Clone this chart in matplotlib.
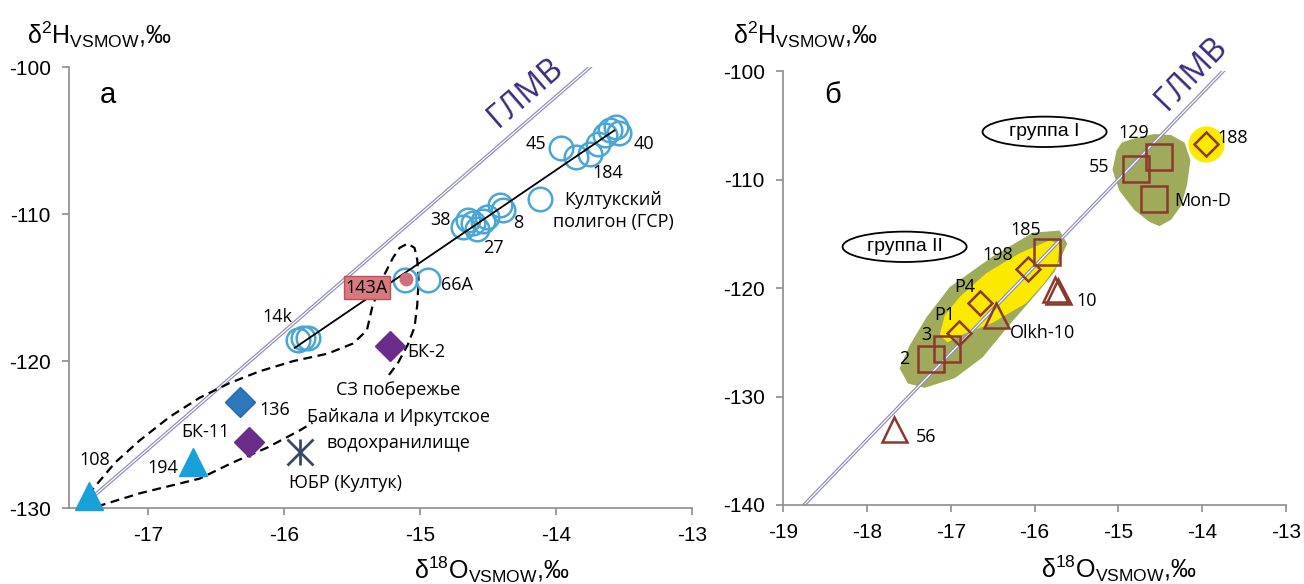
import matplotlib
matplotlib.use('Agg')
import matplotlib.pyplot as plt
from matplotlib.patches import Ellipse

plt.rcParams['font.family'] = ['Liberation Sans', 'DejaVu Sans']
plt.rcParams['mathtext.fontset'] = 'custom'
plt.rcParams['mathtext.rm'] = 'Liberation Sans'
plt.rcParams['mathtext.it'] = 'Liberation Sans'
plt.rcParams['mathtext.bf'] = 'Liberation Sans:bold'
plt.rcParams['axes.unicode_minus'] = False

LBL = ['Open Sans', 'DejaVu Sans']   # шрифт подписей точек

# ---------------- панель а ----------------
# Култукский полигон (ГСР) - открытые кружки
kult_o18 = [-13.96, -13.85, -13.75, -13.69, -13.64, -13.60, -13.56, -13.54,
            -14.68, -14.65, -14.61, -14.58, -14.54, -14.51, -14.41, -14.39, -14.12,
            -15.90, -15.86, -15.82, -15.11, -14.94]
kult_h2 = [-105.5, -106.1, -105.9, -105.2, -104.6, -104.3, -104.1, -104.5,
           -110.9, -110.4, -110.6, -111.0, -110.5, -110.2, -109.4, -109.7, -109.0,
           -118.6, -118.4, -118.4, -114.5, -114.5]
# линия регрессии
regr_o18 = [-15.92, -13.57]
regr_h2 = [-119.1, -104.3]
# 143А
p143_o18, p143_h2 = -15.10, -114.4
# треугольники 108, 194
tri_o18 = [-17.43, -16.67]
tri_h2 = [-129.2, -126.9]
# ромб 136
d136_o18, d136_h2 = -16.32, -122.8
# ромбы БК-11, БК-2
bk_o18 = [-16.26, -15.22]
bk_h2 = [-125.5, -119.0]
# ЮБР (Култук)
ubr_o18, ubr_h2 = -15.88, -126.2
# пунктирный контур
envA_o18 = [-17.44, -17.24, -17.06, -16.84, -16.62, -16.40, -16.18, -15.93, -15.68,
            -15.49, -15.39, -15.35, -15.31, -15.26, -15.20, -15.15, -15.09, -15.04,
            -15.02, -15.01, -15.02, -15.04, -15.09, -15.16, -15.24]
envA_h2 = [-129.1, -126.9, -125.4, -123.8, -122.5, -121.5, -120.7, -120.0, -119.5,
           -118.8, -117.9, -116.3, -115.3, -114.1, -113.0, -112.3, -112.0, -112.3,
           -113.1, -114.5, -116.2, -117.7, -118.9, -120.1, -121.1]
envB_o18 = [-17.375, -17.06, -16.62, -16.375, -16.125, -15.88, -15.79]
envB_h2 = [-129.9, -129.0, -128.0, -126.9, -125.9, -124.7, -124.2]
# ГЛМВ
gmwl_a_o18 = [-17.40, -13.74]
gmwl_b_o18 = [-18.76, -13.71]

labels_a = [('45', -14.15, -105.2), ('40', -13.35, -105.2), ('184', -13.62, -107.2),
            ('38', -14.85, -110.4), ('8', -14.28, -110.6), ('27', -14.46, -112.3),
            ('Култукский\nполигон (ГСР)', -13.58, -109.8), ('66A', -14.73, -114.8),
            ('14k', -16.05, -117.0), ('БК-2', -14.95, -119.4), ('136', -16.07, -123.3),
            ('БК-11', -16.58, -124.8), ('194', -16.89, -127.3), ('108', -17.39, -126.7),
            ('ЮБР (Култук)', -15.55, -128.3), ('СЗ побережье', -15.16, -122.0),
            ('Байкала и Иркутское', -15.16, -123.8), ('водохранилище', -15.16, -125.6)]

# ---------------- панель б ----------------
sq_o18 = [-14.52, -14.79, -14.57, -15.85, -17.04, -17.24]
sq_h2 = [-107.9, -109.0, -111.8, -116.7, -125.6, -126.5]
dm_o18 = [-13.95, -16.08, -16.65, -16.90]
dm_h2 = [-106.7, -118.2, -121.4, -124.1]
tr_o18 = [-16.46, -15.76, -15.72, -17.68]
tr_h2 = [-122.5, -120.1, -120.3, -133.0]

grp1_o18 = [-15.02, -15.07, -14.99, -14.81, -14.63, -14.51, -14.37, -14.25, -14.18,
            -14.14, -14.21, -14.37, -14.57, -14.81, -14.96]
grp1_h2 = [-107.3, -109.1, -111.0, -112.8, -113.9, -114.3, -113.7, -112.4, -110.5,
           -108.2, -106.6, -105.9, -105.8, -106.2, -106.6]
grp2_o18 = [-17.61, -17.49, -17.29, -17.01, -16.50, -16.02, -15.70, -15.61, -15.76,
            -15.94, -16.30, -16.62, -16.95, -17.31, -17.51]
grp2_h2 = [-127.4, -125.3, -122.7, -119.9, -117.1, -114.9, -114.7, -115.9, -118.5,
           -120.2, -123.4, -126.4, -128.3, -129.2, -128.8]
yel_o18 = [-17.13, -17.07, -16.89, -16.57, -16.18, -15.82, -15.70, -15.73, -15.88,
           -16.10, -16.50, -16.86, -17.04]
yel_h2 = [-124.3, -122.5, -120.8, -118.6, -116.8, -115.6, -116.0, -117.9, -119.5,
          -121.4, -123.2, -124.3, -125.0]

labels_b = [('129', -14.81, -105.7, 'center'), ('55', -15.23, -108.8, 'center'),
            ('Mon-D', -14.33, -112.0, 'left'), ('188', -13.82, -106.2, 'left'),
            ('185', -16.10, -114.65, 'center'), ('198', -16.44, -117.0, 'center'),
            ('P4', -16.83, -119.9, 'center'), ('P1', -17.07, -122.5, 'center'),
            ('3', -17.29, -124.3, 'center'), ('2', -17.55, -126.5, 'center'),
            ('Olkh-10', -16.30, -124.1, 'left'), ('10', -15.38, -121.2, 'center'),
            ('56', -17.29, -133.7, 'center')]

BLUE = '#4aa6d6'
TRI = '#17a0da'
PURP = '#6a2d8c'
BROWN = '#8a3a2c'
GMWL_C = '#8e8cb6'
TXT_PURP = '#3b2a7e'

fig = plt.figure(figsize=(13.04, 5.84), dpi=100)
ax1 = fig.add_axes([0.0529, 0.1301, 0.4778, 0.755])
ax2 = fig.add_axes([0.6005, 0.1353, 0.3857, 0.743])

for ax in (ax1, ax2):
    ax.spines['top'].set_visible(False)
    ax.spines['right'].set_visible(False)
    for s in ('left', 'bottom'):
        ax.spines[s].set_color('#8c8c8c')
        ax.spines[s].set_linewidth(1.2)
    ax.tick_params(direction='out', length=5, width=1.2, color='#8c8c8c',
                   labelsize=15, pad=8)

def gmwl(ax, xs):
    ys = [8 * x + 10 for x in xs]
    ax.plot(xs, ys, color=GMWL_C, lw=2.6, zorder=2, solid_capstyle='butt')
    ax.plot(xs, ys, color='white', lw=0.9, zorder=2.1, solid_capstyle='butt')

# ---- панель а ----
ax1.set_xlim(-17.58, -13)
ax1.set_ylim(-130, -100)
ax1.set_xticks([-17, -16, -15, -14, -13])
ax1.set_yticks([-130, -120, -110, -100])

gmwl(ax1, gmwl_a_o18)
ax1.plot(envA_o18, envA_h2, color='black', lw=1.6, ls=(0, (4, 2.5)), zorder=3)
ax1.plot(envB_o18, envB_h2, color='black', lw=1.6, ls=(0, (4, 2.5)), zorder=3)
ax1.plot(kult_o18, kult_h2, 'o', ms=17, mfc='none', mec=BLUE, mew=1.8, zorder=4)
ax1.plot(regr_o18, regr_h2, color='black', lw=1.3, zorder=5)
ax1.plot(p143_o18, p143_h2, 'o', ms=9, color='#cf6f7c', zorder=5)
ax1.plot(tri_o18, tri_h2, '^', ms=20, color=TRI, zorder=6, clip_on=False)
ax1.plot(d136_o18, d136_h2, 'D', ms=15, mfc='#2d78bd', mec='#2468a8', mew=1, zorder=6)
ax1.plot(bk_o18, bk_h2, 'D', ms=15, color=PURP, zorder=6)
ax1.plot(ubr_o18, ubr_h2, 'x', ms=19, mew=2, color='#3a4868', zorder=6)
ax1.plot(ubr_o18, ubr_h2, '|', ms=19, mew=2, color='#3a4868', zorder=6)

ax1.text(-15.39, -115.0, '143A', fontsize=13, family=LBL, ha='center', va='center',
         zorder=7, bbox=dict(boxstyle='square,pad=0.12', fc='#d67a80', ec='#c0504d', lw=1))
for t, x, y in labels_a:
    ax1.text(x, y, t, fontsize=13, family=LBL, ha='center', va='center',
             linespacing=1.25, zorder=7)
ax1.text(-14.22, -101.7, 'ГЛМВ', fontsize=23, color=TXT_PURP, rotation=41,
         ha='center', va='center', family=LBL, zorder=7)
ax1.text(0.063, 0.937, 'а', transform=ax1.transAxes, fontsize=21, ha='center', va='center')
ax1.text(-0.067, 1.073, 'δ$^{2}$H$_{\\mathrm{VSMOW}}$,‰', transform=ax1.transAxes,
         fontsize=18, ha='left', va='center')
ax1.text(0.679, -0.14, 'δ$^{18}$O$_{\\mathrm{VSMOW}}$,‰', transform=ax1.transAxes,
         fontsize=18, ha='center', va='center')

# ---- панель б ----
ax2.set_xlim(-19, -13)
ax2.set_ylim(-140, -100)
ax2.set_xticks(range(-19, -12))
ax2.set_yticks([-140, -130, -120, -110, -100])

ax2.fill(grp1_o18, grp1_h2, color='#9fab5b', lw=0, zorder=1)
ax2.fill(grp2_o18, grp2_h2, color='#9fab5b', lw=0, zorder=1)
ax2.fill(yel_o18, yel_h2, color='#fbea00', lw=0, zorder=1.5)
ax2.plot(dm_o18[0], dm_h2[0], 'o', ms=25, color='#fbea00', zorder=1.5)
gmwl(ax2, gmwl_b_o18)
ax2.plot(sq_o18, sq_h2, 's', ms=18.5, mfc='none', mec=BROWN, mew=1.8, zorder=4)
ax2.plot(dm_o18, dm_h2, 'D', ms=12.5, mfc='none', mec=BROWN, mew=1.8, zorder=4)
ax2.plot(tr_o18, tr_h2, '^', ms=18, mfc='none', mec=BROWN, mew=1.8, zorder=4)

for t, x, y, ha in labels_b:
    ax2.text(x, y, t, fontsize=13, family=LBL, ha=ha, va='center', zorder=7)

for cx, cy, t in [(-15.88, -105.6, 'группа I'), (-17.55, -116.2, 'группа II')]:
    ax2.add_patch(Ellipse((cx, cy), 1.48, 2.8, fill=False, ec='black', lw=1.3, zorder=6))
    ax2.text(cx, cy, t, fontsize=14, ha='center', va='center', zorder=7)

ax2.text(-14.13, -100.2, 'ГЛМВ', fontsize=23, color=TXT_PURP, rotation=46,
         ha='center', va='center', family=LBL, zorder=7, clip_on=False)
ax2.text(0.099, 0.945, 'б', transform=ax2.transAxes, fontsize=21, ha='center', va='center')
ax2.text(-0.099, 1.083, 'δ$^{2}$H$_{\\mathrm{VSMOW}}$,‰', transform=ax2.transAxes,
         fontsize=18, ha='left', va='center')
ax2.text(0.668, -0.147, 'δ$^{18}$O$_{\\mathrm{VSMOW}}$,‰', transform=ax2.transAxes,
         fontsize=18, ha='center', va='center')

fig.savefig('out.png', dpi=100)
